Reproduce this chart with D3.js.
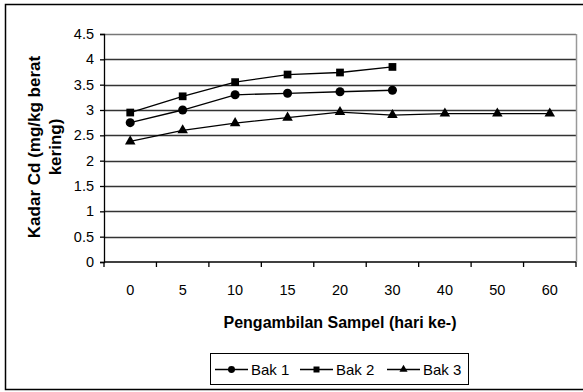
<!DOCTYPE html>
<meta charset="utf-8" />
<style>
  body { margin: 0; background: #fff; }
  text { font-family: "Liberation Sans", Arial, sans-serif; fill: #000; }
  .tick text { font-size: 14.5px; }
  .title { font-size: 16px; font-weight: bold; }
</style>
<body>
<script src="https://d3js.org/d3.v7.min.js"></script>
<script>
  // data
  var days = ['0', '5', '10', '15', '20', '30', '40', '50', '60'];
  var bak1 = [2.75, 3.0, 3.30, 3.33, 3.36, 3.39];
  var bak2 = [2.95, 3.27, 3.55, 3.70, 3.74, 3.85];
  var bak3 = [2.38, 2.6, 2.74, 2.85, 2.96, 2.90, 2.93, 2.93, 2.93];
  var yTicks = [0, 0.5, 1, 1.5, 2, 2.5, 3, 3.5, 4, 4.5];
  var seriesNames = ['Bak 1', 'Bak 2', 'Bak 3'];

  var series = [
    { name: seriesNames[0], values: bak1, sym: d3.symbolCircle, size: 64 },
    { name: seriesNames[1], values: bak2, sym: d3.symbolSquare, size: 60 },
    { name: seriesNames[2], values: bak3, sym: d3.symbolTriangle, size: 48 }
  ];

  var W = 583, H = 392;
  var margin = { top: 34, right: 7, bottom: 130, left: 104 };

  var svg = d3.select('body').append('svg')
    .attr('width', W).attr('height', H);

  // outer frame
  svg.append('rect')
    .attr('x', 5.5).attr('y', 4.5)
    .attr('width', W).attr('height', 385)
    .attr('fill', 'none').attr('stroke', '#000').attr('stroke-width', 1.5);

  var x = d3.scaleBand().domain(days).range([margin.left, W - margin.right]);
  var y = d3.scaleLinear().domain([0, 4.5]).range([H - margin.bottom, margin.top]);

  // gridlines
  svg.append('g').selectAll('line')
    .data(yTicks.slice(1))
    .enter().append('line')
    .attr('x1', margin.left).attr('x2', W - margin.right)
    .attr('y1', function (d) { return Math.round(y(d)) + 0.5; })
    .attr('y2', function (d) { return Math.round(y(d)) + 0.5; })
    .attr('stroke', function (d) { return d === 4.5 ? '#777' : '#333'; })
    .attr('stroke-width', 1.3);

  // right edge of plot area
  svg.append('line')
    .attr('x1', W - margin.right + 0.5).attr('x2', W - margin.right + 0.5)
    .attr('y1', margin.top).attr('y2', y(0))
    .attr('stroke', '#999').attr('stroke-width', 1.5);

  // y axis
  var yAxis = svg.append('g')
    .attr('transform', 'translate(' + margin.left + ',0)')
    .call(d3.axisLeft(y).tickValues(yTicks).tickSize(4).tickPadding(6)
      .tickFormat(function (d) { return d; }));
  yAxis.selectAll('path, line').attr('stroke', '#000').attr('stroke-width', 1.3);
  yAxis.selectAll('text').attr('fill', '#000');
  yAxis.attr('font-family', null).attr('font-size', null);

  // x axis: ticks on band boundaries
  var xg = svg.append('g')
    .attr('transform', 'translate(0,' + Math.round(y(0)) + ')');
  xg.append('line')
    .attr('x1', margin.left).attr('x2', W - margin.right)
    .attr('stroke', '#000').attr('stroke-width', 1.3);
  xg.selectAll('.xt')
    .data(days.concat(['end']))
    .enter().append('line')
    .attr('x1', function (d, i) { return margin.left + i * x.bandwidth(); })
    .attr('x2', function (d, i) { return margin.left + i * x.bandwidth(); })
    .attr('y1', 0).attr('y2', 5)
    .attr('stroke', '#000').attr('stroke-width', 1.3);
  xg.selectAll('.xl')
    .data(days)
    .enter().append('text')
    .attr('x', function (d) { return x(d) + x.bandwidth() / 2; })
    .attr('y', 33)
    .attr('text-anchor', 'middle')
    .style('font-size', '14.5px')
    .text(function (d) { return d; });

  // lines and markers
  var line = d3.line()
    .x(function (d, i) { return x(days[i]) + x.bandwidth() / 2; })
    .y(function (d) { return y(d); });

  series.forEach(function (s) {
    svg.append('path')
      .attr('d', line(s.values))
      .attr('fill', 'none').attr('stroke', '#000').attr('stroke-width', 1.3);
    svg.selectAll(null)
      .data(s.values)
      .enter().append('path')
      .attr('d', d3.symbol().type(s.sym).size(s.size))
      .attr('transform', function (d, i) {
        return 'translate(' + (x(days[i]) + x.bandwidth() / 2) + ',' + y(d) + ')';
      })
      .attr('fill', '#000');
  });

  // axis titles
  svg.append('text').attr('class', 'title')
    .attr('x', (margin.left + W - margin.right) / 2).attr('y', 328)
    .attr('text-anchor', 'middle')
    .text('Pengambilan Sampel (hari ke-)');

  var yt = svg.append('text').attr('class', 'title')
    .style('font-size', '17px')
    .attr('transform', 'translate(40,147) rotate(-90)')
    .attr('text-anchor', 'middle');
  yt.append('tspan').attr('x', 0).attr('dy', 0).text('Kadar Cd (mg/kg berat');
  yt.append('tspan').attr('x', 0).attr('dy', 21).text('kering)');

  // legend
  var lg = svg.append('g');
  lg.append('rect')
    .attr('x', 210.5).attr('y', 353.5).attr('width', 258).attr('height', 31)
    .attr('fill', '#fff').attr('stroke', '#000').attr('stroke-width', 1);
  var lx = [215, 300, 387];
  series.forEach(function (s, i) {
    var g = lg.append('g').attr('transform', 'translate(' + lx[i] + ',369.5)');
    g.append('line').attr('x1', 0).attr('x2', 33)
      .attr('stroke', '#000').attr('stroke-width', 1.3);
    g.append('path').attr('d', d3.symbol().type(s.sym).size(s.size * 0.6))
      .attr('transform', 'translate(16.5,0)').attr('fill', '#000');
    g.append('text').attr('x', 36).attr('y', 5.5)
      .style('font-size', '15px')
      .text(s.name);
  });
</script>
</body>
